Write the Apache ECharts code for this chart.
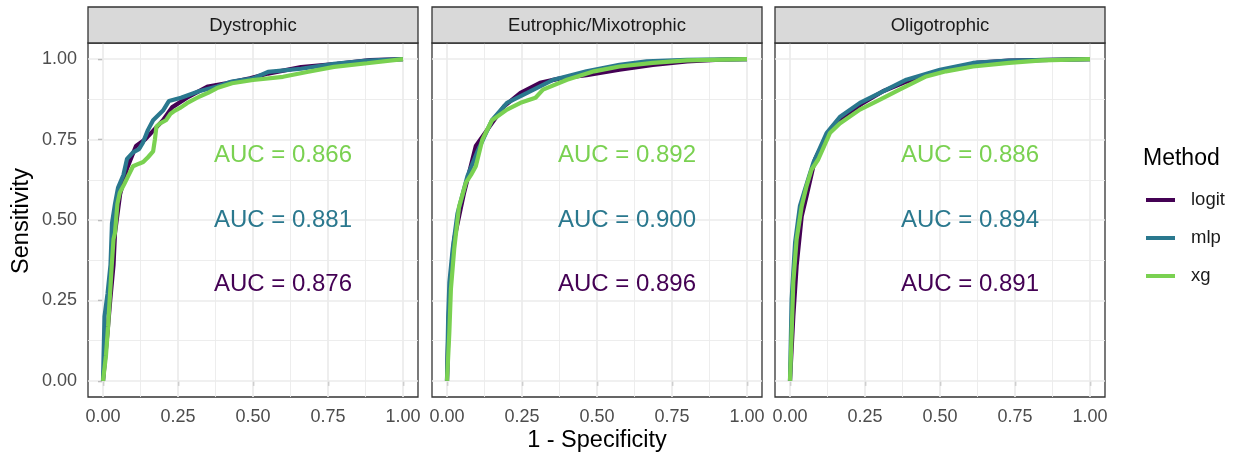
<!DOCTYPE html>
<html><head><meta charset="utf-8">
<script src="https://cdn.jsdelivr.net/npm/echarts@6/dist/echarts.min.js"></script>
<style>html,body{margin:0;padding:0;background:#fff}#c{width:1239px;height:456px}</style>
</head><body><div id="c"></div>
<script>
const facets = ['Dystrophic', 'Eutrophic/Mixotrophic', 'Oligotrophic'];
const methods = ['logit', 'mlp', 'xg'];
const colors = ['#440154', '#2A788E', '#7AD151'];
const tickValues = [0, 0.25, 0.5, 0.75, 1];
const minorValues = [0.125, 0.375, 0.625, 0.875];

// ROC points [1 - specificity, sensitivity]
const dysLogit = [[0,0],[0.015,0.15],[0.024,0.25],[0.035,0.36],[0.04,0.46],[0.057,0.58],[0.08,0.66],[0.11,0.73],[0.14,0.75],[0.17,0.78],[0.2,0.81],[0.23,0.85],[0.28,0.88],[0.35,0.915],[0.41,0.925],[0.49,0.94],[0.55,0.955],[0.66,0.975],[0.78,0.985],[0.89,0.997],[1,1]];
const dysMlp = [[0,0],[0.005,0.2],[0.015,0.27],[0.025,0.36],[0.03,0.49],[0.04,0.55],[0.05,0.6],[0.068,0.64],[0.08,0.69],[0.1,0.71],[0.12,0.72],[0.133,0.74],[0.15,0.78],[0.167,0.81],[0.2,0.84],[0.22,0.87],[0.26,0.88],[0.32,0.9],[0.38,0.915],[0.43,0.93],[0.5,0.94],[0.55,0.96],[0.66,0.97],[0.77,0.985],[0.88,0.995],[1,1]];
const dysXg = [[0,0],[0.01,0.08],[0.017,0.17],[0.022,0.17],[0.029,0.357],[0.035,0.44],[0.04,0.46],[0.048,0.55],[0.056,0.585],[0.07,0.61],[0.083,0.635],[0.1,0.667],[0.12,0.675],[0.134,0.68],[0.15,0.695],[0.167,0.713],[0.173,0.75],[0.178,0.79],[0.19,0.8],[0.21,0.81],[0.225,0.83],[0.24,0.84],[0.26,0.85],[0.28,0.863],[0.32,0.883],[0.35,0.895],[0.38,0.91],[0.43,0.925],[0.5,0.935],[0.6,0.945],[0.68,0.96],[0.77,0.976],[0.88,0.987],[1,1]];

const eutLogit = [[0,0],[0.006,0.2],[0.011,0.306],[0.024,0.44],[0.057,0.585],[0.096,0.73],[0.134,0.78],[0.19,0.853],[0.245,0.895],[0.31,0.926],[0.377,0.94],[0.465,0.95],[0.575,0.967],[0.686,0.982],[0.8,0.993],[0.91,0.998],[1,1]];
const eutMlp = [[0,0],[0.004,0.2],[0.008,0.306],[0.019,0.41],[0.035,0.52],[0.068,0.636],[0.1,0.71],[0.15,0.81],[0.2,0.864],[0.267,0.895],[0.355,0.936],[0.465,0.962],[0.575,0.982],[0.666,0.993],[0.8,0.998],[1,1]];
const eutXg = [[0,0],[0.0077,0.15],[0.013,0.285],[0.024,0.41],[0.04,0.54],[0.063,0.616],[0.08,0.64],[0.096,0.667],[0.118,0.75],[0.15,0.81],[0.2,0.843],[0.245,0.864],[0.295,0.88],[0.32,0.905],[0.4,0.936],[0.49,0.962],[0.575,0.977],[0.686,0.988],[0.8,0.996],[1,1]];

const oliLogit = [[0,0],[0.011,0.2],[0.022,0.357],[0.039,0.512],[0.055,0.574],[0.083,0.688],[0.133,0.78],[0.177,0.82],[0.244,0.864],[0.31,0.9],[0.388,0.93],[0.5,0.962],[0.62,0.988],[0.73,0.995],[1,1]];
const oliMlp = [[0,0],[0.0055,0.254],[0.017,0.43],[0.033,0.543],[0.05,0.595],[0.078,0.678],[0.122,0.77],[0.166,0.82],[0.233,0.864],[0.3,0.895],[0.388,0.936],[0.5,0.967],[0.61,0.988],[0.73,0.995],[1,1]];
const oliXg = [[0,0],[0.0055,0.15],[0.011,0.306],[0.022,0.44],[0.039,0.543],[0.055,0.605],[0.072,0.657],[0.094,0.688],[0.133,0.77],[0.166,0.8],[0.233,0.843],[0.3,0.874],[0.365,0.905],[0.454,0.946],[0.52,0.962],[0.61,0.977],[0.73,0.988],[0.84,0.996],[1,1]];

// AUC per facet, order: logit, mlp, xg
const aucDys = [0.876, 0.881, 0.866];
const aucEut = [0.896, 0.900, 0.892];
const aucOli = [0.891, 0.894, 0.886];
const aucLabelX = 0.6;
const aucLabelY = [0.3, 0.5, 0.7];

const curves = [[dysLogit, dysMlp, dysXg], [eutLogit, eutMlp, eutXg], [oliLogit, oliMlp, oliXg]];
const aucs = [aucDys, aucEut, aucOli];

const FONT = '"Liberation Sans", Arial, sans-serif';
const panelLeft = [88, 432, 775];
const panelTop = 43, panelW = 330, panelH = 354;
const stripTop = 7, stripH = 36;

const chart = echarts.init(document.getElementById('c'), null, {renderer: 'canvas'});

const grids = [], xAxes = [], yAxes = [], series = [], graphics = [];
facets.forEach((f, i) => {
  grids.push({left: panelLeft[i], top: panelTop, width: panelW, height: panelH,
    show: true, backgroundColor: '#fff', borderColor: '#333333', borderWidth: 1.3,
    containLabel: false, outerBoundsMode: 'none'});
  xAxes.push({type: 'value', gridIndex: i, min: -0.05, max: 1.05,
    axisLine: {show: false}, splitLine: {show: false},
    axisTick: {show: true, customValues: tickValues, length: 5, lineStyle: {color: '#333333', width: 1.2}},
    axisLabel: {show: true, customValues: tickValues, formatter: v => v.toFixed(2), fontSize: 18,
      color: '#4d4d4d', fontFamily: FONT, margin: 11}});
  yAxes.push({type: 'value', gridIndex: i, min: -0.05, max: 1.05,
    axisLine: {show: false}, splitLine: {show: false},
    axisTick: {show: i === 0, customValues: tickValues, length: 5, lineStyle: {color: '#333333', width: 1.2}},
    axisLabel: {show: i === 0, customValues: tickValues, formatter: v => v.toFixed(2), fontSize: 18,
      color: '#4d4d4d', fontFamily: FONT, margin: 11}});

  const gl = [];
  minorValues.forEach(v => {
    gl.push({coords: [[v, -0.05], [v, 1.05]], lineStyle: {width: 0.9}});
    gl.push({coords: [[-0.05, v], [1.05, v]], lineStyle: {width: 0.9}});
  });
  tickValues.forEach(v => {
    gl.push({coords: [[v, -0.05], [v, 1.05]], lineStyle: {width: 1.7}});
    gl.push({coords: [[-0.05, v], [1.05, v]], lineStyle: {width: 1.7}});
  });
  series.push({type: 'lines', coordinateSystem: 'cartesian2d', xAxisIndex: i, yAxisIndex: i,
    polyline: false, silent: true, z: 1, lineStyle: {color: '#ebebeb', opacity: 1, width: 1}, data: gl});

  methods.forEach((m, k) => {
    series.push({name: m, type: 'line', xAxisIndex: i, yAxisIndex: i, data: curves[i][k],
      showSymbol: false, symbol: 'none', silent: true, z: 3 + k,
      lineStyle: {color: colors[k], width: 4.2}, itemStyle: {color: colors[k]}});
  });

  series.push({type: 'scatter', xAxisIndex: i, yAxisIndex: i, silent: true, z: 10,
    symbolSize: 1, itemStyle: {color: 'rgba(255,255,255,0)', opacity: 1},
    data: methods.map((m, k) => ({value: [aucLabelX, aucLabelY[k]], name: 'AUC = ' + aucs[i][k].toFixed(3),
      label: {show: true, position: 'inside', formatter: '{b}', color: colors[k], opacity: 1,
        textBorderWidth: 0, fontSize: 24, fontFamily: FONT}}))});

  graphics.push({type: 'rect', shape: {x: panelLeft[i], y: stripTop, width: panelW, height: stripH},
    style: {fill: '#d9d9d9', stroke: '#333333', lineWidth: 1.3}, z: 10});
  graphics.push({type: 'text', x: panelLeft[i] + panelW / 2, y: stripTop + stripH / 2 + 1,
    style: {text: f, fontSize: 18.5, fontFamily: FONT, fill: '#1a1a1a', textAlign: 'center', textVerticalAlign: 'middle'}, z: 11});
});

graphics.push({type: 'text', x: 597, y: 441,
  style: {text: '1 - Specificity', fontSize: 23.5, fontFamily: FONT, fill: '#000', textAlign: 'center', textVerticalAlign: 'middle'}});
graphics.push({type: 'text', x: 22, y: 221, rotation: Math.PI / 2,
  style: {text: 'Sensitivity', fontSize: 23.5, fontFamily: FONT, fill: '#000', textAlign: 'center', textVerticalAlign: 'middle'}});
graphics.push({type: 'text', x: 1143, y: 159,
  style: {text: 'Method', fontSize: 23, fontFamily: FONT, fill: '#000', textAlign: 'left', textVerticalAlign: 'middle'}});

chart.setOption({
  animation: false,
  backgroundColor: '#ffffff',
  grid: grids, xAxis: xAxes, yAxis: yAxes, series: series,
  legend: {data: methods, orient: 'vertical', left: 1146, top: 190, padding: 0,
    icon: 'rect', itemWidth: 29, itemHeight: 4, itemGap: 18, selectedMode: false,
    textStyle: {fontSize: 18.5, fontFamily: FONT, color: '#1a1a1a', lineHeight: 20, padding: [0, 0, 0, 11]}},
  graphic: graphics
});
</script></body></html>
